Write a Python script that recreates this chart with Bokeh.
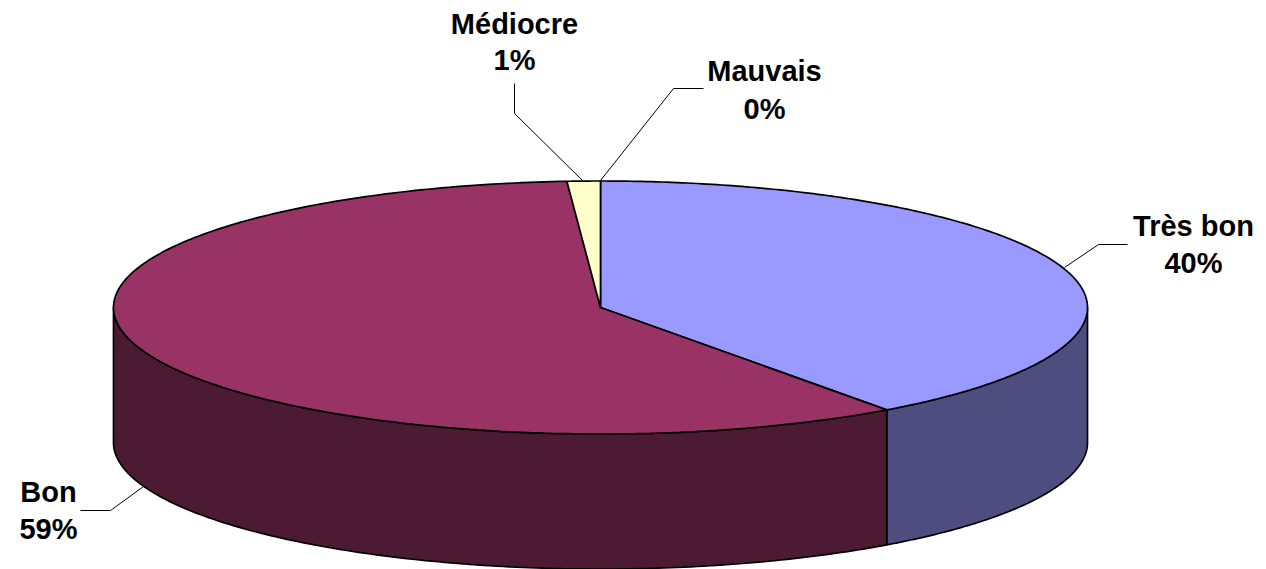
import numpy as np
from bokeh.plotting import figure
from bokeh.embed import file_html
from bokeh.resources import INLINE
from bokeh.core.properties import value

categories = ["Très bon", "Bon", "Médiocre", "Mauvais"]
values = [40.0, 58.9, 1.1, 0.0]
labels = ["40%", "59%", "1%", "0%"]
top_colors = ["#9999FF", "#993366", "#FFFFCC", "#CCFFFF"]
side_colors = ["#4D4D80", "#4D1A33", "#808066", "#668080"]

CX, CY, RX, RY, DEPTH = 600.0, 307.0, 487.0, 126.5, 135.0

p = figure(width=1266, height=569, x_range=(0, 1266), y_range=(569, 0),
           toolbar_location=None, output_backend="svg", min_border=0)
p.axis.visible = False
p.grid.visible = False
p.outline_line_color = None
p.background_fill_color = "white"
p.border_fill_color = "white"

def pt(deg):
    a = np.radians(deg)
    return CX + RX * np.sin(a), CY - RY * np.cos(a)

edges = np.concatenate([[0], np.cumsum(values)]) * 3.6

# side walls: only the near half (90..270 deg clockwise from top) is visible
for i in range(len(values)):
    a0, a1 = max(edges[i], 90), min(edges[i + 1], 270)
    if a1 <= a0:
        continue
    t = np.linspace(a0, a1, 160)
    x, y = pt(t)
    xs = np.concatenate([x, x[::-1]])
    ys = np.concatenate([y, (y + DEPTH)[::-1]])
    p.patch(xs, ys, fill_color=side_colors[i], line_color="black", line_width=1.7)

# top slices
for i in range(len(values)):
    if values[i] <= 0:
        continue
    t = np.linspace(edges[i], edges[i + 1], 240)
    x, y = pt(t)
    xs = np.concatenate([[CX], x, [CX]])
    ys = np.concatenate([[CY], y, [CY]])
    p.patch(xs, ys, fill_color=top_colors[i], line_color="black", line_width=1.7)

# leader lines
leaders = [
    ([1064, 1098, 1127], [267, 244, 244]),
    ([143, 110, 80], [486, 510, 510]),
    ([582, 514, 514], [180, 113, 83]),
    ([600, 673, 703], [180, 88, 88]),
]
for lx, ly in leaders:
    p.line(lx, ly, line_color="black", line_width=1)

# labels
label_xy = [(1193, 225, 262), (48, 491, 528), (514, 23, 59), (764, 70, 108)]
for cat, lab, (x, y1, y2) in zip(categories, labels, label_xy):
    for txt, y in ((cat, y1), (lab, y2)):
        p.text([x], [y], text=[txt], text_font=value("Liberation Sans"),
               text_font_style="bold", text_font_size="29px", text_color="black",
               text_align="center", text_baseline="middle")

open("out.html", "w").write(file_html(p, INLINE))
